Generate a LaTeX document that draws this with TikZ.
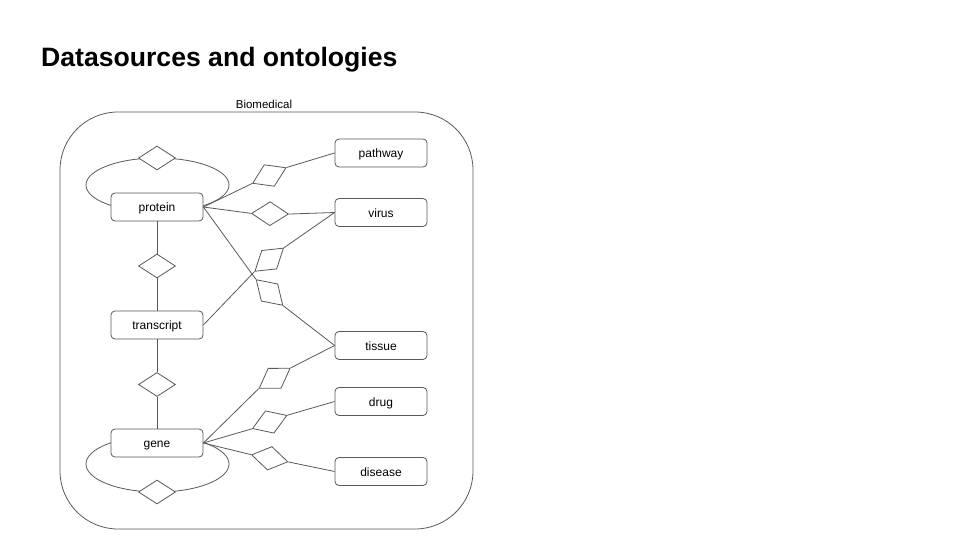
\documentclass[tikz,border=0pt]{standalone}
\usepackage{fontspec}
\setmainfont{Liberation Sans}
\usetikzlibrary{shapes.geometric}
\definecolor{linegray}{HTML}{595959}
\tikzset{
	entity/.style={draw=linegray, line width=0.8pt, fill=white, rounded corners=4pt, minimum width=92pt, minimum height=28pt, inner sep=0pt, text height=11.4pt, text depth=2pt, font=\fontsize{12}{14}\selectfont},
	rel/.style={draw=linegray, line width=0.8pt, fill=white, diamond, minimum width=37pt, minimum height=24pt, inner sep=0pt},
	link/.style={draw=linegray, line width=0.8pt}
}

\begin{document}
\begin{tikzpicture}[x=1pt, y=-1pt]
		%%%%% START %%%%%
		\useasboundingbox (0, 0) rectangle (960, 540);
		
		\node[anchor=base west, inner sep=0pt, font=\bfseries\fontsize{26.6}{30}\selectfont] (title) at (41, 67) {Datasources and ontologies};
		
		\draw[link, rounded corners=58pt] (60, 112) rectangle (473, 529);
		\node[anchor=base, font=\fontsize{11.5}{13}\selectfont] (biomedical) at (264, 109) {Biomedical};
		
		% self loops
		\draw[link] (157.5, 185) ellipse [x radius=71.5pt, y radius=27pt];
		\draw[link] (157.5, 464) ellipse [x radius=71.5pt, y radius=28pt];
		\node[rel] (protein-loop) at (157, 158) {};
		\node[rel] (gene-loop) at (157, 492) {};
		
		% entities
		\node[entity] (protein) at (157, 207) {protein};
		\node[entity] (transcript) at (157, 325) {transcript};
		\node[entity] (gene) at (157, 443) {gene};
		
		\node[entity] (pathway) at (381, 153) {pathway};
		\node[entity] (virus) at (381, 212.5) {virus};
		\node[entity] (tissue) at (381, 345.5) {tissue};
		\node[entity] (drug) at (381, 401.5) {drug};
		\node[entity] (disease) at (381, 471.5) {disease};
		
		% relations
		\node[rel] (protein-transcript) at (157, 266) {};
		\node[rel] (transcript-gene) at (157, 384.5) {};
		\node[rel, rotate=25] (protein-pathway) at (269.3, 175.5) {};
		\node[rel, rotate=-1] (protein-virus) at (270, 213.7) {};
		\node[rel, rotate=39] (transcript-virus) at (269.2, 259.7) {};
		\node[rel, rotate=-44] (protein-tissue) at (269.5, 292.5) {};
		\node[rel, rotate=33] (gene-tissue) at (274.6, 378.3) {};
		\node[rel, rotate=21] (gene-drug) at (269.7, 422) {};
		\node[rel, rotate=-11] (gene-disease) at (269.7, 458.3) {};
		
		\draw[link] (protein) -- (protein-transcript) -- (transcript);
		\draw[link] (transcript) -- (transcript-gene) -- (gene);
		
		\draw[link] (protein.east) -- (protein-pathway.west);
		\draw[link] (protein-pathway.east) -- (pathway.west);
		\draw[link] (protein.east) -- (protein-virus.west);
		\draw[link] (protein-virus.east) -- (virus.west);
		\draw[link] (protein.east) -- (protein-tissue.west);
		\draw[link] (protein-tissue.east) -- (tissue.west);
		\draw[link] (transcript.east) -- (transcript-virus.west);
		\draw[link] (transcript-virus.east) -- (virus.west);
		
		\draw[link] (gene.east) -- (gene-tissue.west);
		\draw[link] (gene-tissue.east) -- (tissue.west);
		\draw[link] (gene.east) -- (gene-drug.west);
		\draw[link] (gene-drug.east) -- (drug.west);
		\draw[link] (gene.east) -- (gene-disease.west);
		\draw[link] (gene-disease.east) -- (disease.west);
		
		%%%%% END %%%%%
\end{tikzpicture}
\end{document}
